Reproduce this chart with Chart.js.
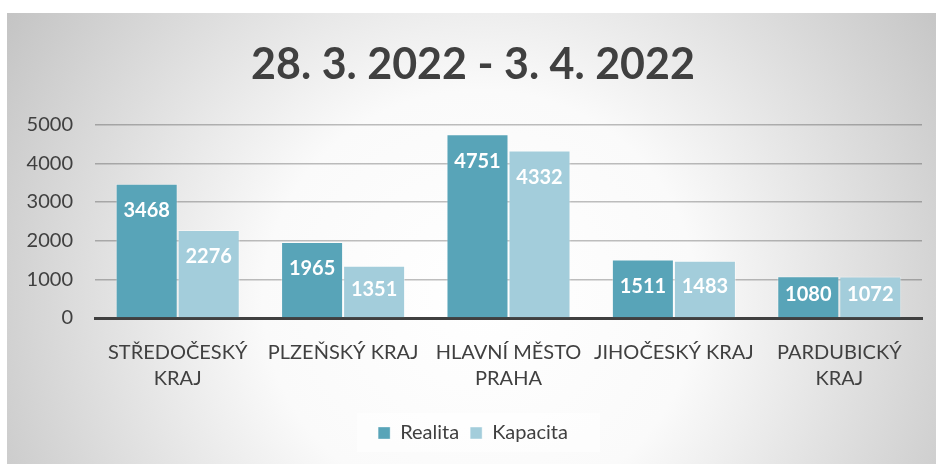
<!DOCTYPE html>
<html>
<head>
<meta charset="utf-8">
<script src="https://cdn.jsdelivr.net/npm/chart.js@4"></script>
<style>
  html, body { margin: 0; padding: 0; background: #fff; }
  #wrap { width: 936px; height: 464px; }
</style>
</head>
<body>
<div id="wrap"><canvas id="krajeChart"></canvas></div>
<script>
const kraje = [["STŘEDOČESKÝ", "KRAJ"], "PLZEŇSKÝ KRAJ", ["HLAVNÍ MĚSTO", "PRAHA"], "JIHOČESKÝ KRAJ", ["PARDUBICKÝ", "KRAJ"]];
const realita = [3468, 1965, 4751, 1511, 1080];
const kapacita = [2276, 1351, 4332, 1483, 1072];
const osaY = [0, 1000, 2000, 3000, 4000, 5000];

const ctx = document.getElementById("krajeChart");

// pozadí s radiálním přechodem + rámeček legendy
const pozadi = {
  id: "pozadi",
  beforeDraw(chart) {
    const c = chart.ctx;
    c.save();
    c.fillStyle = "#fff";
    c.fillRect(0, 0, chart.width, chart.height);
    c.translate(480, 300);
    c.scale(1, 600 / 620);
    const g = c.createRadialGradient(0, 0, 0, 0, 0, 620);
    g.addColorStop(0, "#ffffff");
    g.addColorStop(0.35, "#fafafa");
    g.addColorStop(1, "#bababa");
    c.fillStyle = g;
    c.fillRect(7 - 480, (13 - 300) * 620 / 600, 1000, 1000);
    c.restore();

    const lg = chart.legend;
    c.save();
    c.fillStyle = "rgba(255,255,255,0.55)";
    c.fillRect(357, lg.top + 1, 243, lg.height - 2);
    c.restore();
  }
};

// hodnoty uvnitř sloupců
const popisky = {
  id: "popisky",
  afterDatasetsDraw(chart) {
    const c = chart.ctx;
    c.save();
    c.fillStyle = "#fff";
    c.font = "bold 20px Lato";
    c.textAlign = "center";
    c.textBaseline = "middle";
    chart.data.datasets.forEach((ds, i) => {
      chart.getDatasetMeta(i).data.forEach((bar, j) => {
        const h = bar.base - bar.y;
        const y = bar.y + Math.min(27, h / 2 - 2);
        c.fillText(ds.data[j], bar.x, y);
      });
    });
    c.restore();
  }
};

new Chart(ctx, {
  type: "bar",
  data: {
    labels: kraje,
    datasets: [
      {
        label: "Realita",
        data: realita,
        backgroundColor: "#58a4b8",
        borderColor: "rgba(255,255,255,0.35)",
        borderWidth: 1,
      },
      {
        label: "Kapacita",
        data: kapacita,
        backgroundColor: "#a3cddb",
        borderColor: "rgba(255,255,255,0.45)",
        borderWidth: 1,
      },
    ],
  },
  options: {
    responsive: true,
    maintainAspectRatio: false,
    animation: false,
    categoryPercentage: 0.75,
    barPercentage: 1.0,
    layout: { padding: { top: 30, right: 14, left: 24, bottom: 11 } },
    scales: {
      y: {
        min: 0,
        max: 5000,
        afterBuildTicks: (axis) => { axis.ticks = osaY.map((v) => ({ value: v })); },
        afterFit: (axis) => { axis.width = 71; },
        grid: { color: "rgba(0,0,0,0.25)", lineWidth: 1.5, drawTicks: false },
        border: { display: false },
        ticks: { color: "#404040", font: { family: "Lato", size: 20 }, padding: 22, callback: (v) => String(v) },
      },
      x: {
        afterFit: (axis) => { axis.height -= 2; },
        grid: { display: false, drawTicks: false },
        border: { display: true, color: "#404040", width: 3 },
        ticks: { color: "#404040", font: { family: "Lato", size: 20, lineHeight: 1.3 }, padding: 22, maxRotation: 0, autoSkip: false },
      },
    },
    plugins: {
      title: {
        display: true,
        text: "28. 3. 2022 - 3. 4. 2022",
        color: "#404040",
        font: { family: "Lato", size: 43, weight: "bold", lineHeight: 1.2 },
        padding: { top: 9, bottom: 34 },
      },
      legend: {
        position: "bottom",
        labels: { color: "#404040", font: { family: "Lato", size: 20 }, boxWidth: 12, boxHeight: 12, padding: 11 },
      },
      tooltip: { enabled: false },
    },
  },
  plugins: [pozadi, popisky],
});
</script>
</body>
</html>
